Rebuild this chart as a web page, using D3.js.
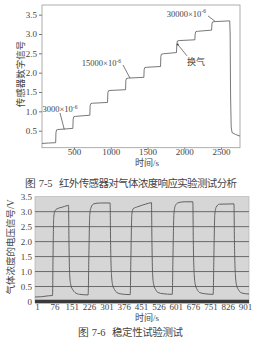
<!DOCTYPE html>
<html>
<head>
<meta charset="utf-8">
<script src="https://cdn.jsdelivr.net/npm/d3@7"></script>
<style>
  body { margin: 0; background: #fff; }
  svg { display: block; }
  text { fill: #444; }
  .num { font-family: "Liberation Serif", "DejaVu Serif", serif; }
  .cjk { font-family: "Noto Sans CJK SC", sans-serif; }
</style>
</head>
<body>
<div id="root"></div>
<script>
// 图 7-5 数据
const respTime = [64, 150, 250, 254, 262, 280, 484, 488, 496, 520, 715, 719, 728, 750, 956, 960, 968, 990, 1201, 1205, 1214, 1240, 1450, 1454, 1462, 1490, 1677, 1681, 1690, 1720, 1894, 1898, 1906, 1930, 2144, 2148, 2156, 2180, 2372, 2376, 2384, 2410, 2618, 2624, 2630, 2638, 2650, 2700, 2758]
const respValue = [0.17, 0.18, 0.19, 0.45, 0.52, 0.53, 0.56, 0.8, 0.86, 0.87, 0.9, 1.15, 1.2, 1.21, 1.23, 1.48, 1.53, 1.54, 1.56, 1.8, 1.85, 1.86, 1.88, 2.08, 2.13, 2.14, 2.16, 2.42, 2.48, 2.49, 2.52, 2.72, 2.82, 2.83, 2.85, 3.0, 3.06, 3.07, 3.1, 3.26, 3.31, 3.32, 3.34, 3.0, 1.4, 0.6, 0.45, 0.4, 0.36]
const respTicksX = [500, 1000, 1500, 2000, 2500]
const respTicksY = [0.5, 1.0, 1.5, 2.0, 2.5, 3.0, 3.5]
const respNotes = [
  { label: '3000×10', at: [367, 0.53], text: [309, 1.06], anchor: 'middle' },
  { label: '15000×10', at: [1261, 1.86], text: [1139, 2.25], anchor: 'end' },
  { label: '换气', at: [1910, 2.73], text: [2037, 2.28], anchor: 'start' },
  { label: '30000×10', at: [2418, 3.33], text: [2295, 3.52], anchor: 'end' }
]

// 图 7-6 数据
const stabTime = [-8, 20, 50, 68, 70, 73, 78, 88, 110, 130, 137, 139, 142, 147, 155, 165, 185, 222, 225, 229, 235, 246, 275, 317, 319, 323, 328, 336, 346, 366, 404, 407, 411, 417, 435, 470, 496, 498, 501, 506, 514, 524, 546, 586, 589, 593, 599, 612, 640, 675, 677, 681, 686, 694, 704, 726, 763, 766, 770, 776, 790, 853, 855, 859, 864, 872, 882, 902, 918]
const stabValue = [0.15, 0.16, 0.19, 0.2, 1.5, 2.8, 3.02, 3.1, 3.15, 3.2, 3.21, 2.0, 0.9, 0.55, 0.4, 0.3, 0.24, 0.22, 1.5, 2.9, 3.15, 3.26, 3.29, 3.29, 2.0, 0.9, 0.55, 0.4, 0.3, 0.25, 0.23, 1.5, 2.9, 3.1, 3.16, 3.25, 3.3, 2.0, 0.9, 0.55, 0.4, 0.3, 0.26, 0.24, 1.5, 2.9, 3.2, 3.3, 3.33, 3.33, 2.0, 0.9, 0.55, 0.4, 0.3, 0.26, 0.24, 1.5, 2.9, 3.15, 3.25, 3.26, 2.0, 0.9, 0.55, 0.4, 0.3, 0.26, 0.25]
const stabTicksX = [1, 76, 151, 226, 301, 376, 451, 526, 601, 676, 751, 826, 901]
const stabTicksY = [0, 0.5, 1.0, 1.5, 2.0, 2.5, 3.0, 3.5]
const stabGrid = [0.5, 1.0, 1.5, 2.0, 2.5, 3.0]

const svg = d3.select('#root').append('svg')
.attr('width', 274)
.attr('height', 346)

// ---- 图 7-5 ----
const x1 = d3.scaleLinear().domain([64, 2758]).range([42, 240])
const y1 = d3.scaleLinear().domain([0.06, 3.75]).range([147.7, 5])

svg.append('rect')
.attr('x', x1.range()[0])
.attr('y', y1.range()[1])
.attr('width', x1.range()[1] - x1.range()[0])
.attr('height', y1.range()[0] - y1.range()[1])
.attr('fill', 'none')
.attr('stroke', '#999')
.attr('stroke-width', 0.8)

const axisStyle = g => {
  g.select('.domain').remove()
  g.selectAll('line').attr('stroke', '#777')
  g.selectAll('text').attr('class', 'num').attr('font-size', 9).attr('fill', '#555')
}

svg.append('g')
.attr('transform', `translate(0, ${y1.range()[0]})`)
.call(d3.axisBottom(x1).tickValues(respTicksX).tickFormat(d3.format('d')).tickSize(2).tickPadding(-1))
.call(axisStyle)

svg.append('g')
.attr('transform', `translate(${x1.range()[0]}, 0)`)
.call(d3.axisLeft(y1).tickValues(respTicksY).tickFormat(d3.format('.1f')).tickSize(3).tickPadding(2))
.call(axisStyle)

const respLine = d3.line()
.x((d, i) => x1(respTime[i]))
.y(d => y1(d))

svg.append('path')
.datum(respValue)
.attr('d', respLine)
.attr('fill', 'none')
.attr('stroke', '#555')
.attr('stroke-width', 0.8)

respNotes.forEach(n => {
  const tx = x1(n.text[0])
  const ty = y1(n.text[1])
  let lx = tx
  let ly = ty + 4
  if (n.anchor === 'end') { lx = tx + 2; ly = ty + 2 }
  if (n.anchor === 'start') { lx = tx; ly = ty - 6 }
  svg.append('line')
  .attr('x1', lx).attr('y1', ly)
  .attr('x2', x1(n.at[0])).attr('y2', y1(n.at[1]))
  .attr('stroke', '#444')
  .attr('stroke-width', 0.7)

  const t = svg.append('text')
  .attr('x', tx)
  .attr('y', ty + 3)
  .attr('text-anchor', n.anchor)
  .attr('font-size', 8.5)
  if (n.label === '换气') {
    t.attr('class', 'cjk').attr('font-size', 9).text(n.label)
    svg.append('circle')
    .attr('cx', x1(n.at[0])).attr('cy', y1(n.at[1]))
    .attr('r', 1).attr('fill', '#444')
  } else {
    t.attr('class', 'num').text(n.label)
    t.append('tspan').attr('font-size', 5.5).attr('dy', -3.5).text('-6')
  }
})

svg.append('text')
.attr('class', 'cjk')
.attr('transform', 'translate(24, 74) rotate(-90)')
.attr('text-anchor', 'middle')
.attr('font-size', 9.5)
.text('传感器数字信号')

const xt1 = svg.append('text')
.attr('x', 147)
.attr('y', 166)
.attr('text-anchor', 'middle')
.attr('font-size', 9)
xt1.append('tspan').attr('class', 'cjk').text('时间')
xt1.append('tspan').attr('class', 'num').text('/s')

svg.append('text')
.attr('class', 'num')
.attr('x', 25).attr('y', 186.5)
.attr('font-size', 10.5)
.attr('fill', '#333')
.text('图 7-5')
svg.append('text')
.attr('class', 'cjk')
.attr('x', 59).attr('y', 186.5)
.attr('font-size', 10.5)
.attr('textLength', 178)
.attr('fill', '#333')
.text('红外传感器对气体浓度响应实验测试分析')

// ---- 图 7-6 ----
const x2 = d3.scaleLinear().domain([-8, 918]).range([35, 249])
const y2 = d3.scaleLinear().domain([0, 3.5]).range([301.5, 196.7])

svg.append('rect')
.attr('x', x2.range()[0])
.attr('y', y2.range()[1])
.attr('width', x2.range()[1] - x2.range()[0])
.attr('height', y2(0) + 1.5 - y2.range()[1])
.attr('fill', '#d6d6d6')
.attr('stroke', '#aaa')
.attr('stroke-width', 0.6)

svg.append('g')
.selectAll('line')
.data(stabGrid)
.join('line')
.attr('x1', x2.range()[0])
.attr('x2', x2.range()[1])
.attr('y1', d => y2(d))
.attr('y2', d => y2(d))
.attr('stroke', '#6a6a6a')
.attr('stroke-width', 1)

svg.append('line')
.attr('x1', x2.range()[0])
.attr('x2', x2.range()[1])
.attr('y1', y2(0))
.attr('y2', y2(0))
.attr('stroke', '#3a3a3a')
.attr('stroke-width', 3.5)

const stabLine = d3.line()
.x((d, i) => x2(stabTime[i]))
.y(d => y2(d))
.curve(d3.curveMonotoneX)

svg.append('path')
.datum(stabValue)
.attr('d', stabLine)
.attr('fill', 'none')
.attr('stroke', '#555')
.attr('stroke-width', 0.9)

svg.append('g')
.attr('transform', `translate(0, ${y2(0) + 2})`)
.call(d3.axisBottom(x2).tickValues(stabTicksX).tickFormat(d3.format('d')).tickSize(0).tickPadding(0))
.call(axisStyle)

svg.append('g')
.attr('transform', `translate(${x2.range()[0] - 1}, 0)`)
.call(d3.axisLeft(y2).tickValues(stabTicksY).tickFormat(d => d === 0 ? '0' : d3.format('.1f')(d)).tickSize(0).tickPadding(2))
.call(axisStyle)

const yl2 = svg.append('text')
.attr('transform', 'translate(14, 247) rotate(-90)')
.attr('text-anchor', 'middle')
.attr('font-size', 9.5)
yl2.append('tspan').attr('class', 'cjk').text('气体浓度的电压信号')
yl2.append('tspan').attr('class', 'num').text('/V')

const xt2 = svg.append('text')
.attr('x', 147)
.attr('y', 321)
.attr('text-anchor', 'middle')
.attr('font-size', 9)
xt2.append('tspan').attr('class', 'cjk').text('时间')
xt2.append('tspan').attr('class', 'num').text('/s')

svg.append('text')
.attr('class', 'num')
.attr('x', 78).attr('y', 335.5)
.attr('font-size', 10.5)
.attr('fill', '#333')
.text('图 7-6')
svg.append('text')
.attr('class', 'cjk')
.attr('x', 112).attr('y', 335.5)
.attr('font-size', 10.5)
.attr('textLength', 71)
.attr('fill', '#333')
.text('稳定性试验测试')
</script>
</body>
</html>
